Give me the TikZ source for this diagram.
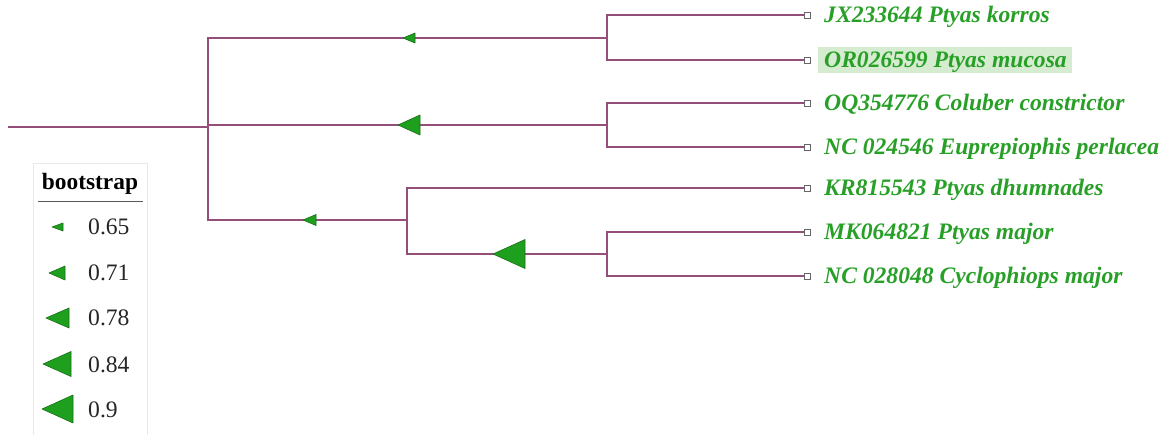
\documentclass[tikz,border=0pt]{standalone}
\usepackage{fontspec}
\setmainfont{Liberation Serif}
\definecolor{branch}{RGB}{148,78,122}
\definecolor{labgreen}{RGB}{40,160,40}
\definecolor{trifill}{RGB}{30,160,30}
\definecolor{triedge}{RGB}{25,110,25}
\definecolor{hilite}{RGB}{214,236,208}
\definecolor{legbox}{RGB}{232,232,232}
\begin{document}
\begin{tikzpicture}[x=1pt,y=-1pt,
  br/.style={draw=branch,line width=2pt},
  leafsq/.style={draw=gray!80!black,fill=white,line width=0.9pt,minimum size=6pt,inner sep=0pt,rectangle},
  leaflab/.style={anchor=base west,inner sep=0pt,text=labgreen,font=\fontsize{23.6}{26}\selectfont\bfseries\itshape},
  legval/.style={anchor=base west,inner sep=0pt,text=black!85,font=\fontsize{23.6}{26}\selectfont},
  pics/btri/.style args={#1/#2}{code={\filldraw[fill=trifill,draw=triedge,line width=0.6pt,line join=round] (0,0) -- (#1,-#2) -- (#1,#2) -- cycle;}}
]
\useasboundingbox (0,0) rectangle (1172,435);
% legend box
\draw[legbox,line width=0.8pt] (33,435) -- (33,163) -- (147,163) -- (147,435);
% highlight
\fill[hilite] (818,47) rectangle (1072,73);
% tree coordinates
\coordinate (r0) at (8,127);
\coordinate (n0) at (208,127);
\coordinate (n1) at (607,38);
\coordinate (n2) at (607,125);
\coordinate (n3) at (407,220);
\coordinate (n4) at (607,254);
% leaves
\node[leafsq] (l1) at (807,15) {};
\node[leafsq] (l2) at (807,60) {};
\node[leafsq] (l3) at (807,103) {};
\node[leafsq] (l4) at (807,147) {};
\node[leafsq] (l5) at (807,188) {};
\node[leafsq] (l6) at (807,232) {};
\node[leafsq] (l7) at (807,276) {};
% branches
\draw[br] (r0) -- (n0);
\draw[br] (n1) -| (n0);
\draw[br] (n3) -| (n0);
\draw[br] (n2) -- (n0 |- n2);
\draw[br] (l1.west) -| (n1);
\draw[br] (l2.west) -| (n1);
\draw[br] (l3.west) -| (n2);
\draw[br] (l4.west) -| (n2);
\draw[br] (l5.west) -| (n3);
\draw[br] (n4) -| (n3);
\draw[br] (l6.west) -| (n4);
\draw[br] (l7.west) -| (n4);
% labels
\node[leaflab] (t1) at (824,23) {JX233644 Ptyas korros};
\node[leaflab] (t2) at (824,68) {OR026599 Ptyas mucosa};
\node[leaflab] (t3) at (824,111) {OQ354776 Coluber constrictor};
\node[leaflab] (t4) at (824,155) {NC 024546 Euprepiophis perlacea};
\node[leaflab] (t5) at (824,196) {KR815543 Ptyas dhumnades};
\node[leaflab] (t6) at (824,240) {MK064821 Ptyas major};
\node[leaflab] (t7) at (824,284) {NC 028048 Cyclophiops major};
% bootstrap triangles on branches
\pic at (403,38) {btri={12/5}};
\pic at (398,125) {btri={22/10}};
\pic at (303,220) {btri={13/5.5}};
\pic at (493,254) {btri={32/14.5}};
% legend
\node[anchor=base,inner sep=0pt,font=\fontsize{23.4}{26}\selectfont\bfseries] (lt) at (90,190) {bootstrap};
\draw[gray!70!black,line width=1pt] (38,202) -- (143,202);
\pic at (52,227) {btri={11/4}};
\pic at (49,273) {btri={16/7}};
\pic at (46,318) {btri={23/10}};
\pic at (43,364) {btri={28/12.5}};
\pic at (42,409) {btri={31/14}};
\node[legval] (v1) at (88,235) {0.65};
\node[legval] (v2) at (88,281) {0.71};
\node[legval] (v3) at (88,326) {0.78};
\node[legval] (v4) at (88,372) {0.84};
\node[legval] (v5) at (88,417) {0.9};
\end{tikzpicture}
\end{document}
